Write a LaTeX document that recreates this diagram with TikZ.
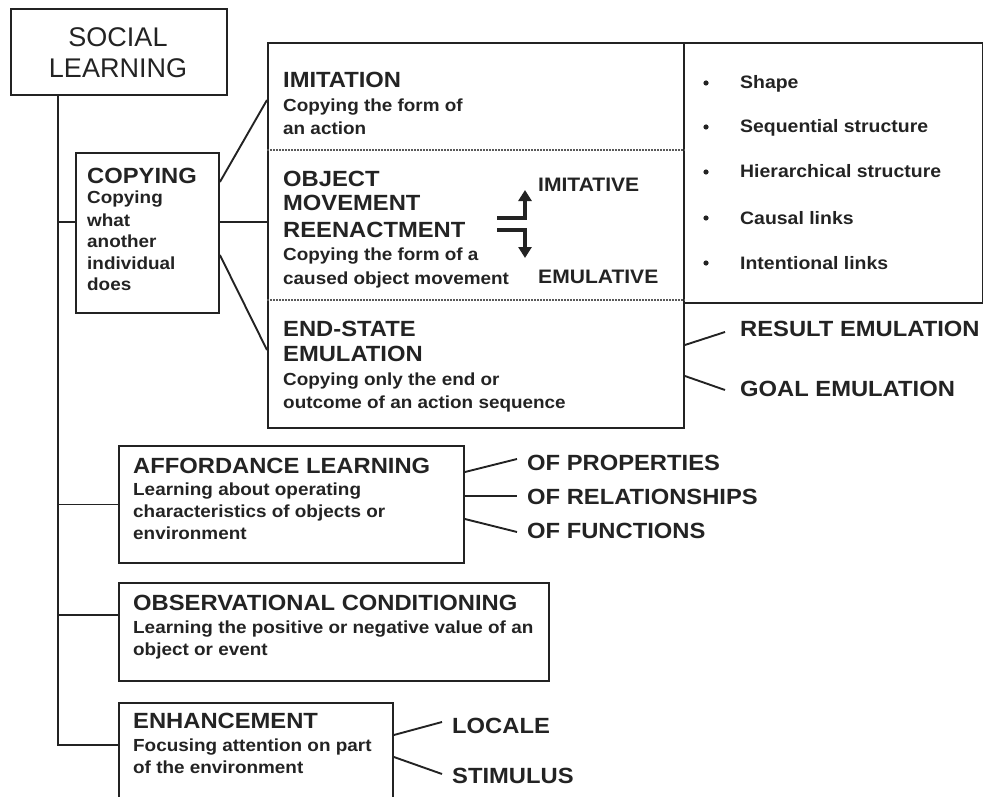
\documentclass[tikz,border=0pt]{standalone}
\usepackage{fontspec}
\newfontfamily\lsb{Liberation Sans}[FakeStretch=1.08]
\newfontfamily\lsr{Liberation Sans}
\usetikzlibrary{arrows.meta}
\definecolor{ink}{RGB}{35,35,35}
\begin{document}
\begin{tikzpicture}[x=1pt,y=-1pt,
  box/.style={draw=ink, line width=1.9pt, anchor=north west, inner sep=0pt},
  ln/.style={draw=ink, line width=1.9pt},
  sepline/.style={draw=ink!75, line width=1.3pt, dash pattern=on 2pt off 1pt},
  tl/.style={anchor=base, inner sep=0pt, text=ink, font=\lsr\fontsize{27}{30}\selectfont},
  hd/.style={anchor=base west, inner sep=0pt, text=ink, font=\lsb\bfseries\fontsize{22}{25}\selectfont},
  bd/.style={anchor=base west, inner sep=0pt, text=ink, font=\lsb\bfseries\fontsize{17.5}{21}\selectfont},
  bl/.style={anchor=base west, inner sep=0pt, text=ink, font=\lsb\bfseries\fontsize{18}{21}\selectfont},
  iv/.style={anchor=base west, inner sep=0pt, text=ink, font=\lsb\bfseries\fontsize{19.5}{23}\selectfont},
  arr/.style={draw=ink, line width=4pt, -{Triangle[width=13pt,length=11pt]}}
]
\useasboundingbox (0,0) rectangle (983,797);
\clip (0,0) rectangle (983,797);

% boxes
\node[box, minimum width=216pt, minimum height=86pt] (social) at (10,8) {};
\node[box, minimum width=143pt, minimum height=160pt] (copy) at (75,152) {};
\node[box, minimum width=416pt, minimum height=385pt] (big) at (267,42) {};
\node[box, minimum width=299pt, minimum height=260pt] (bul) at (683,42) {};
\node[box, minimum width=345pt, minimum height=117pt] (aff) at (118,445) {};
\node[box, minimum width=430pt, minimum height=98pt] (obs) at (118,582) {};
\node[box, minimum width=274pt, minimum height=100pt] (enh) at (118,702) {};

% separators in big box
\draw[sepline] (big.west |- 0,150) -- (big.east |- 0,150);
\draw[sepline] (big.west |- 0,300) -- (big.east |- 0,300);

% title
\node[tl] (sl1) at (118,47) {SOCIAL};
\node[tl] (sl2) at (118,78) {LEARNING};

% copying
\node[hd] (cp0) at (87,183) {COPYING};
\node[bd] (cp1) at (87,204) {Copying};
\node[bd] (cp2) at (87,226) {what};
\node[bd] (cp3) at (87,247) {another};
\node[bd] (cp4) at (87,269) {individual};
\node[bd] (cp5) at (87,290) {does};

% imitation
\node[hd] (im0) at (283,88) {IMITATION};
\node[bd] (im1) at (283,112) {Copying the form of};
\node[bd] (im2) at (283,135) {an action};

% object movement reenactment
\node[hd] (om0) at (283,186) {OBJECT};
\node[hd] (om1) at (283,211) {MOVEMENT};
\node[hd] (om2) at (283,237) {REENACTMENT};
\node[bd] (om3) at (283,260) {Copying the form of a};
\node[bd] (om4) at (283,284) {caused object movement};
\node[iv] (imv) at (538,191) {IMITATIVE};
\node[iv] (emv) at (538,283) {EMULATIVE};
\coordinate (a1) at (497,218);
\coordinate (a1e) at (525,190);
\coordinate (a2) at (497,230);
\coordinate (a2e) at (525,258);
\draw[arr] (a1) -| (a1e);
\draw[arr] (a2) -| (a2e);

% end-state emulation
\node[hd] (es0) at (283,336) {END-STATE};
\node[hd] (es1) at (283,361) {EMULATION};
\node[bd] (es2) at (283,385) {Copying only the end or};
\node[bd] (es3) at (283,408) {outcome of an action sequence};

\node[hd] (res) at (740,336) {RESULT EMULATION};
\node[hd] (goal) at (740,396) {GOAL EMULATION};

% bullets
\foreach \yy/\tt [count=\i] in {89/Shape, 133/Sequential structure, 178/Hierarchical structure, 224/Causal links, 269/Intentional links}{
  \fill[ink] (706,\yy-6) circle (2.6pt);
  \node[bl] (b\i) at (740,\yy) {\tt};
}

% affordance
\node[hd] (af0) at (133,473) {AFFORDANCE LEARNING};
\node[bd] (af1) at (133,495) {Learning about operating};
\node[bd] (af2) at (133,517) {characteristics of objects or};
\node[bd] (af3) at (133,539) {environment};
\node[hd] (prop) at (527,470) {OF PROPERTIES};
\node[hd] (rel) at (527,504) {OF RELATIONSHIPS};
\node[hd] (fun) at (527,538) {OF FUNCTIONS};

% observational conditioning
\node[hd] (oc0) at (133,610) {OBSERVATIONAL CONDITIONING};
\node[bd] (oc1) at (133,633) {Learning the positive or negative value of an};
\node[bd] (oc2) at (133,655) {object or event};

% enhancement
\node[hd] (en0) at (133,728) {ENHANCEMENT};
\node[bd] (en1) at (133,751) {Focusing attention on part};
\node[bd] (en2) at (133,773) {of the environment};
\node[hd] (loc) at (452,733) {LOCALE};
\node[hd] (sti) at (452,783) {STIMULUS};

% trunk and branches
\coordinate (tk) at (social.south -| 58,0);
\coordinate (tkb) at (58,745);
\draw[ln] (tk) -- (tkb) -- (enh.west |- tkb);
\draw[ln] (tk |- 0,222) -- (copy.west |- 0,222);
\draw[ln] (tk |- aff.west) -- (aff.west);
\draw[ln] (tk |- 0,615) -- (obs.west |- 0,615);

% copying to big box
\draw[ln] (copy.east |- 0,182) -- (big.west |- 0,100);
\draw[ln] (copy.east |- 0,222) -- (big.west |- 0,222);
\draw[ln] (copy.east |- 0,255) -- (big.west |- 0,350);

% big box to emulation kinds
\draw[ln] (big.east |- 0,345) -- ([xshift=-15pt]res.west |- 0,332);
\draw[ln] (big.east |- 0,376) -- ([xshift=-15pt]goal.west |- 0,390);

% affordance to kinds
\draw[ln] (aff.east |- 0,472) -- ([xshift=-10pt]prop.west |- 0,459);
\draw[ln] (aff.east |- 0,496) -- ([xshift=-10pt]rel.west |- 0,496);
\draw[ln] (aff.east |- 0,519) -- ([xshift=-10pt]fun.west |- 0,532);

% enhancement to kinds
\draw[ln] (enh.east |- 0,735) -- ([xshift=-10pt]loc.west |- 0,722);
\draw[ln] (enh.east |- 0,757) -- ([xshift=-10pt]sti.west |- 0,774);
\end{tikzpicture}
\end{document}
